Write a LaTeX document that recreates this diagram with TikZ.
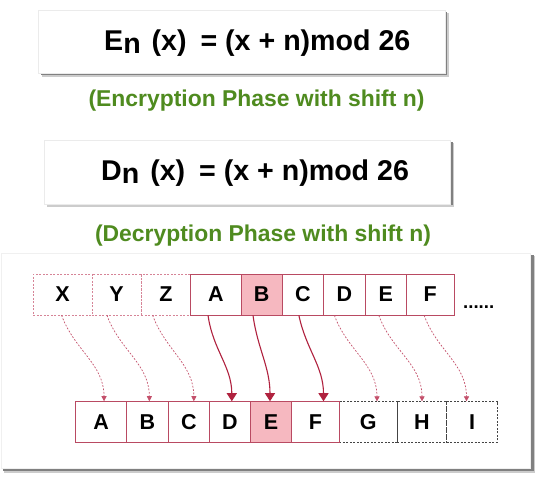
\documentclass[tikz,border=0pt]{standalone}
\usepackage{fontspec}
\setmainfont{Liberation Sans}
\usetikzlibrary{arrows.meta}
\definecolor{cellred}{HTML}{B94A62}
\definecolor{arrowred}{HTML}{B0223F}
\definecolor{dashred}{HTML}{C4506B}
\definecolor{pinkfill}{HTML}{F6B8C0}
\definecolor{greentxt}{HTML}{4F8B1F}
\definecolor{dashgray}{HTML}{444444}
\newcommand\lowsub[1]{\raisebox{-3pt}{#1}}
\begin{document}
\begin{tikzpicture}[x=1pt,y=-1pt,
  cellbase/.style={rectangle, inner sep=0pt, minimum height=41pt,
    font=\fontsize{21.5}{21.5}\bfseries\selectfont, text=black},
  cellsolid/.style={cellbase, draw=cellred, line width=0.9pt},
  celldashred/.style={cellbase, draw=dashred!70, line width=0.6pt, dash pattern=on 2pt off 1.5pt},
  celldashgray/.style={cellbase, draw=dashgray, line width=0.6pt, dash pattern=on 2pt off 1.5pt},
  hilite/.style={fill=pinkfill},
  formula/.style={anchor=base west, inner sep=0pt, font=\fontsize{28.6}{28.6}\bfseries\selectfont},
  caption/.style={anchor=base, inner sep=0pt, text=greentxt, font=\fontsize{22.9}{22.9}\bfseries\selectfont},
  solidarrow/.style={draw=arrowred, line width=1.1pt, -{Triangle[length=8pt,width=10pt]}},
  dasharrow/.style={draw=dashred, line width=0.7pt, dash pattern=on 1.8pt off 1.6pt, -{Triangle[length=5pt,width=5pt]}}
]
\useasboundingbox (0,0) rectangle (550,484);
\fill[white] (0,0) rectangle (550,484);

% formula boxes
\fill[black!20] (42,13) rectangle (448.5,77);
\fill[black!50] (41,12) rectangle (447,75);
\node[draw=black!8, fill=white, line width=0.5pt, minimum width=406.4pt, minimum height=63.9pt, inner sep=0pt] (box1) at (241.8,41.75) {};
\fill[black!20] (47.2,143) rectangle (454,207.5);
\fill[black!50] (46.2,142) rectangle (452.5,205.5);
\node[draw=black!8, fill=white, line width=0.5pt, minimum width=406.9pt, minimum height=64.6pt, inner sep=0pt] (box2) at (247.25,172.1) {};

\node[formula] (f1) at (104,50.5) {E\lowsub{n}\hspace{3pt} (x)\hspace{6pt} = (x + n)mod 26};
\node[formula] (f2) at (101,180.5) {D\lowsub{n}\hspace{3pt} (x)\hspace{6pt} = (x + n)mod 26};

\node[caption] (c1) at (256.5,107) {(Encryption Phase with shift n)};
\node[caption] (c2) at (263,241.5) {(Decryption Phase with shift n)};

% panel
\fill[black!20] (4,256) rectangle (535,473);
\fill[black!50] (3,255) rectangle (533.5,471.5);
\node[draw=black!6, fill=white, line width=0.5pt, minimum width=529pt, minimum height=215pt, inner sep=0pt] (panel) at (265.5,360.5) {};

% top row
\node[celldashred, minimum width=58.6pt] (tX) at (62.6,294.5) {X};
\node[celldashred, minimum width=49.5pt] (tY) at (116.65,294.5) {Y};
\node[celldashred, minimum width=49.3pt] (tZ) at (166.05,294.5) {Z};
\node[cellsolid, minimum width=50.3pt] (tA) at (215.85,294.5) {A};
\node[cellsolid, hilite, minimum width=41.4pt] (tB) at (261.7,294.5) {B};
\node[cellsolid, minimum width=41pt] (tC) at (302.9,294.5) {C};
\node[cellsolid, minimum width=42.1pt] (tD) at (344.45,294.5) {D};
\node[cellsolid, minimum width=40.7pt] (tE) at (385.85,294.5) {E};
\node[cellsolid, minimum width=48pt] (tF) at (430.2,294.5) {F};
\node[anchor=base west, inner sep=0pt, font=\fontsize{18.6}{18.6}\bfseries\selectfont] (dots) at (463,309) {......};

% bottom row
\node[celldashgray, minimum width=58pt, minimum height=40.6pt] (bG) at (368.3,422) {G};
\node[celldashgray, minimum width=49.4pt, minimum height=40.6pt] (bH) at (422,422) {H};
\node[celldashgray, minimum width=50.6pt, minimum height=40.6pt] (bI) at (472,422) {I};
\node[cellsolid, minimum width=50.5pt, minimum height=40.6pt] (bA) at (101.05,422) {A};
\node[cellsolid, minimum width=42.1pt, minimum height=40.6pt] (bB) at (147.35,422) {B};
\node[cellsolid, minimum width=40.9pt, minimum height=40.6pt] (bC) at (188.85,422) {C};
\node[cellsolid, minimum width=41pt, minimum height=40.6pt] (bD) at (229.8,422) {D};
\node[cellsolid, hilite, minimum width=41.4pt, minimum height=40.6pt] (bE) at (271,422) {E};
\node[cellsolid, minimum width=47.6pt, minimum height=40.6pt] (bF) at (315.5,422) {F};

% arrows
\draw[dasharrow] ([xshift=-1pt]tX.south) to[out=-70,in=90] ([xshift=3pt]bA.north);
\draw[dasharrow] ([xshift=-9.7pt]tY.south) to[out=-70,in=90] ([xshift=2pt]bB.north);
\draw[dasharrow] ([xshift=-13.4pt]tZ.south) to[out=-70,in=90] ([xshift=5pt]bC.north);
\draw[solidarrow] ([xshift=-7.8pt]tA.south) to[out=-82,in=90] ([xshift=2pt]bD.north);
\draw[solidarrow] ([xshift=-8.7pt]tB.south) to[out=-82,in=90] ([xshift=-1pt]bE.north);
\draw[solidarrow] ([xshift=-4pt]tC.south) to[out=-78,in=90] ([xshift=8pt]bF.north);
\draw[dasharrow] ([xshift=-10pt]tD.south) to[out=-70,in=90] ([xshift=8.7pt]bG.north);
\draw[dasharrow] ([xshift=-7pt]tE.south) to[out=-70,in=90] ([xshift=0pt]bH.north);
\draw[dasharrow] ([xshift=-6pt]tF.south) to[out=-70,in=90] ([xshift=-5.5pt]bI.north);
\end{tikzpicture}
\end{document}
